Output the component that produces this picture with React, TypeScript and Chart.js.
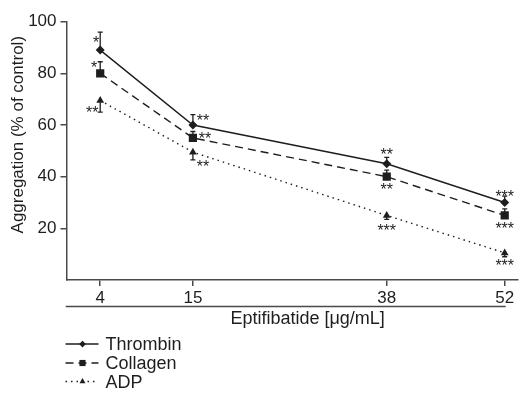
import React, { useEffect, useRef } from 'react';
import { Chart, registerables } from 'chart.js';

Chart.register(...registerables);

// ---------- data ----------
const doses = [4, 15, 38, 52];
const xTickValues = [4, 15, 38, 52];
const yTickValues = [20, 40, 60, 80, 100];
const seriesNames = ['Thrombin', 'Collagen', 'ADP'];
const thrombin = [89, 60, 45, 30];
const collagen = [80, 55, 40, 25];
const adp = [69.5, 49.5, 25, 10.5];
const thrombinErr = [7, 4, 2.5, 2.5];
const collagenErr = [4.5, 2.5, 2.5, 2.5];
const adpErr = [4.5, 3, 1.5, 1.5];
const thrombinStars = ['*', '**', '**', '***'];
const collagenStars = ['*', '**', '**', '***'];
const adpStars = ['**', '**', '***', '***'];
const xTitle = 'Eptifibatide [μg/mL]';
const yTitle = 'Aggregation (% of control)';

// ---------- style ----------
const FONT = "'Liberation Sans', Arial, Helvetica, sans-serif";
const INK = '#1e1e1e';
const AXIS = '#4a4a4a';
const errDir = [1, 1, -1];
const seriesErr = [thrombinErr, collagenErr, adpErr];
const seriesStars = [thrombinStars, collagenStars, adpStars];
// visual-centre offsets of the significance stars relative to each point (px)
const starOffsets = [
  [[-4, -11], [10, -8], [0, -13], [0, -10]],
  [[-6, -9.5], [12, -3], [0, 9], [0, 9]],
  [[-8, 8], [10, 11], [0, 11], [0, 9]],
];
const pointStyles = ['rectRot', 'rect', 'triangle'];
const pointRadii = [4.5, 5.8, 4.5];
const dashes = [[], [8, 5], [1.5, 4]];

function drawMarker(ctx, style, x, y, r) {
  ctx.beginPath();
  if (style === 'rectRot') {
    ctx.moveTo(x, y - r);
    ctx.lineTo(x + r, y);
    ctx.lineTo(x, y + r);
    ctx.lineTo(x - r, y);
  } else if (style === 'rect') {
    const s = r * Math.SQRT1_2;
    ctx.rect(x - s, y - s, 2 * s, 2 * s);
  } else {
    const h = r * 1.5;
    ctx.moveTo(x, y - h * 0.6667);
    ctx.lineTo(x + r * 0.866, y + h * 0.3333);
    ctx.lineTo(x - r * 0.866, y + h * 0.3333);
  }
  ctx.closePath();
  ctx.fill();
}

const extrasPlugin = {
  id: 'extras',
  afterDatasetsDraw(chart) {
    const { ctx, chartArea, scales } = chart;
    const xs = scales.x;
    const ys = scales.y;
    ctx.save();
    // error bars
    ctx.strokeStyle = INK;
    ctx.lineWidth = 1.3;
    ctx.setLineDash([]);
    chart.data.datasets.forEach((ds, si) => {
      ds.data.forEach((p, i) => {
        const x = xs.getPixelForValue(p.x);
        const y0 = ys.getPixelForValue(p.y);
        const y1 = ys.getPixelForValue(p.y + errDir[si] * seriesErr[si][i]);
        ctx.beginPath();
        ctx.moveTo(x, y0);
        ctx.lineTo(x, y1);
        ctx.moveTo(x - 2.5, y1);
        ctx.lineTo(x + 2.5, y1);
        ctx.stroke();
      });
    });
    // stars
    ctx.fillStyle = INK;
    ctx.font = `16px ${FONT}`;
    ctx.textAlign = 'center';
    ctx.textBaseline = 'alphabetic';
    chart.data.datasets.forEach((ds, si) => {
      ds.data.forEach((p, i) => {
        const x = xs.getPixelForValue(p.x) + starOffsets[si][i][0];
        const y = ys.getPixelForValue(p.y) + starOffsets[si][i][1];
        ctx.fillText(seriesStars[si][i], x, y + 9.2);
      });
    });
    ctx.restore();
  },
  afterDraw(chart) {
    const { ctx, chartArea, scales } = chart;
    const xs = scales.x;
    ctx.save();
    // secondary baseline under the tick labels
    ctx.strokeStyle = AXIS;
    ctx.lineWidth = 1.5;
    const xEnd = xs.getPixelForValue(xTickValues[xTickValues.length - 1]);
    ctx.beginPath();
    ctx.moveTo(chartArea.left - 0.75, chartArea.bottom + 26.5);
    ctx.lineTo(xEnd + 1, chartArea.bottom + 26.5);
    ctx.stroke();
    // x title
    ctx.fillStyle = INK;
    ctx.font = `18px ${FONT}`;
    ctx.textAlign = 'center';
    ctx.textBaseline = 'alphabetic';
    ctx.fillText(xTitle, (chartArea.left + xEnd) / 2 + 22, chartArea.bottom + 44);
    // y title
    ctx.save();
    ctx.font = `17px ${FONT}`;
    ctx.translate(23, chartArea.top + 113);
    ctx.rotate(-Math.PI / 2);
    ctx.fillText(yTitle, 0, 0);
    ctx.restore();
    // legend
    const lx = chartArea.left - 1;
    const rows = [344, 363, 381.5];
    seriesNames.forEach((name, si) => {
      const y = rows[si];
      ctx.strokeStyle = INK;
      ctx.lineWidth = 1.4;
      ctx.setLineDash(dashes[si]);
      ctx.beginPath();
      ctx.moveTo(lx, y);
      ctx.lineTo(lx + 33, y);
      ctx.stroke();
      ctx.setLineDash([]);
      ctx.fillStyle = INK;
      drawMarker(ctx, pointStyles[si], lx + 17, y, pointRadii[si] * 0.75);
      ctx.font = `18px ${FONT}`;
      ctx.textAlign = 'left';
      ctx.fillText(name, lx + 40, y + 6);
    });
    ctx.restore();
  },
};

export default function App() {
  const ref = useRef<HTMLCanvasElement | null>(null);
  useEffect(() => {
    document.body.style.margin = '0';
    const series = [thrombin, collagen, adp];
    const chart = new Chart(ref.current as HTMLCanvasElement, {
      type: 'line',
      data: {
        datasets: series.map((vals, si) => ({
          label: seriesNames[si],
          data: doses.map((d, i) => ({ x: d, y: vals[i] })),
          borderColor: INK,
          backgroundColor: INK,
          borderWidth: 1.4,
          borderDash: dashes[si],
          pointStyle: pointStyles[si],
          pointRadius: pointRadii[si],
          pointBorderWidth: 0,
          pointBackgroundColor: INK,
          tension: 0,
        })),
      },
      options: {
        animation: false,
        responsive: false,
        devicePixelRatio: 1,
        layout: { padding: { left: 0, top: 21.7, right: 0, bottom: 0 } },
        plugins: { legend: { display: false }, tooltip: { enabled: false } },
        scales: {
          x: {
            type: 'linear',
            min: 0,
            max: 53.6,
            afterBuildTicks: (s) => {
              s.ticks = xTickValues.map((v) => ({ value: v }));
            },
            afterFit: (s) => {
              s.height = 113;
            },
            grid: { display: true, drawOnChartArea: false, drawTicks: true, tickLength: 6, color: AXIS, lineWidth: 1.5 },
            border: { display: true, color: AXIS, width: 1.5 },
            ticks: { color: INK, font: { family: FONT, size: 17 }, padding: 2, maxRotation: 0, autoSkip: false },
          },
          y: {
            type: 'linear',
            min: 0,
            max: 100,
            afterBuildTicks: (s) => {
              s.ticks = yTickValues.map((v) => ({ value: v }));
            },
            afterFit: (s) => {
              s.width = 66.5;
            },
            grid: { display: true, drawOnChartArea: false, drawTicks: true, tickLength: 6, color: AXIS, lineWidth: 1.5 },
            border: { display: true, color: AXIS, width: 1.5 },
            ticks: { color: INK, font: { family: FONT, size: 17 }, padding: 4 },
          },
        },
      },
      plugins: [extrasPlugin],
    });
    return () => chart.destroy();
  }, []);
  return (
    <div style={{ position: 'absolute', left: 0, top: 0, width: 524, height: 393 }}>
      <canvas ref={ref} width={524} height={393} />
    </div>
  );
}
